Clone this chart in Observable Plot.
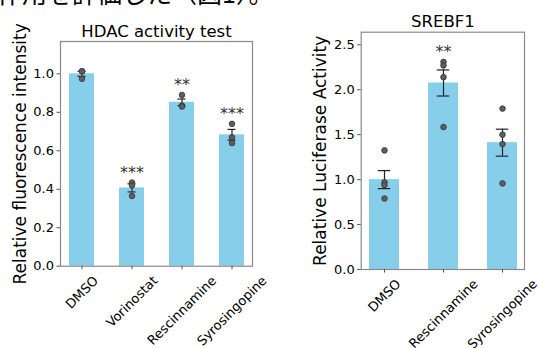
<!DOCTYPE html>
<html><head><meta charset="utf-8">
<script src="https://cdn.jsdelivr.net/npm/d3@7"></script>
<script src="https://cdn.jsdelivr.net/npm/@observablehq/plot@0.6"></script>
<style>
body{margin:0;background:#fff;font-family:"DejaVu Sans";color:#000;}
#wrap{position:relative;width:539px;height:348px;overflow:hidden;background:#fff;}
#cap{position:absolute;left:-3px;top:-23px;font-family:"Noto Sans CJK JP";font-size:25px;line-height:30px;white-space:nowrap;}
#left{position:absolute;left:0;top:0;}
#right{position:absolute;left:270px;top:0;}
svg{font-family:"DejaVu Sans";}
</style></head><body>
<div id="wrap"><div id="cap">作用を評価した（図1）。</div><div id="left"></div><div id="right"></div></div>
<script>
// HDAC activity test
const hdacCategories = ["DMSO", "Vorinostat", "Rescinnamine", "Syrosingopine"];
const hdacMeans = [1.0, 0.407, 0.852, 0.683];
const hdacSems = [0.013, 0.021, 0.017, 0.028];
const hdacPoints = [[1.013, 1.013, 0.974], [0.435, 0.42, 0.365], [0.89, 0.835, 0.83], [0.74, 0.67, 0.64]];
const hdacStars = ["", "***", "**", "***"];
const hdacTicks = [0, 0.2, 0.4, 0.6, 0.8, 1.0];

// SREBF1 luciferase
const srebfCategories = ["DMSO", "Rescinnamine", "Syrosingopine"];
const srebfMeans = [1.0, 2.075, 1.411];
const srebfSems = [0.1, 0.145, 0.15];
const srebfPoints = [[1.325, 0.97, 0.94, 0.79], [2.31, 2.27, 2.14, 1.585], [1.79, 1.5, 1.395, 0.958]];
const srebfStars = ["", "**", ""];
const srebfTicks = [0, 0.5, 1.0, 1.5, 2.0, 2.5];

const FS = 13;
const ctx = document.createElement("canvas").getContext("2d");
ctx.font = `${FS}px "DejaVu Sans"`;

function panel(o) {
  const bars = o.categories.map((c, i) => ({c, m: o.means[i], lo: o.means[i] - o.sems[i], hi: o.means[i] + o.sems[i]}));
  const pts = o.categories.flatMap((c, i) => o.points[i].map(v => ({c, v})));
  const st = o.categories.map((c, i) => ({c, s: o.stars[i], y: d3.max(o.points[i])})).filter(d => d.s);
  const h = FS * 1.16;
  const labelMarks = o.categories.map(c => {
    const w = ctx.measureText(c).width;
    const off = (w + h) / (2 * Math.SQRT2);
    return Plot.text([c], {x: d => d, text: d => d, frameAnchor: "bottom", dy: 7 + off, rotate: -45,
      textAnchor: "middle", lineAnchor: "middle", fontSize: FS, fill: "#000"});
  });
  return Plot.plot({
    width: o.width, height: o.height,
    marginLeft: o.ml, marginRight: o.mr, marginTop: o.mt, marginBottom: o.mb,
    style: {background: "transparent", fontFamily: "DejaVu Sans"},
    x: {type: "band", domain: o.categories, paddingInner: 0.5, paddingOuter: o.po, axis: null},
    y: {domain: [0, o.yMax], axis: null},
    marks: [
      Plot.barY(bars, {x: "c", y: "m", fill: "#87CEEB"}),
      Plot.ruleX(bars, {x: "c", y1: "lo", y2: "hi", stroke: "#222", strokeWidth: 1.2}),
      Plot.tickY(bars, {x: "c", y: "hi", insetLeft: o.cap, insetRight: o.cap, stroke: "#222", strokeWidth: 1.2}),
      Plot.tickY(bars, {x: "c", y: "lo", insetLeft: o.cap, insetRight: o.cap, stroke: "#222", strokeWidth: 1.2}),
      Plot.dot(pts, {x: "c", y: "v", r: 2.8, fill: "#5e5e5e", stroke: "#333", strokeWidth: 0.8}),
      Plot.text(st, {x: "c", y: "y", text: "s", lineAnchor: "bottom", dy: -5, fontSize: 16, fill: "#333"}),
      Plot.frame({stroke: "#8a8a8a", strokeWidth: 1.2}),
      Plot.axisY({ticks: o.ticks, tickFormat: d3.format(".1f"), tickSize: 3.5, tickPadding: 3,
        fontSize: FS, label: null, stroke: "#555", fill: "#000"}),
      Plot.axisX({tickSize: 3.5, tickFormat: () => "", label: null, stroke: "#555"}),
      ...labelMarks,
      Plot.text([o.ylabel], {text: d => d, frameAnchor: "left", dx: o.ylabelX - o.ml, rotate: -90,
        textAnchor: "middle", lineAnchor: "middle", fontSize: 17, fill: "#000"}),
      Plot.text([o.title], {text: d => d, frameAnchor: "top", dy: o.titleY - o.mt,
        lineAnchor: "middle", fontSize: 16.5, fill: "#000"})
    ]
  });
}

document.getElementById("left").append(panel({
  categories: hdacCategories, means: hdacMeans, sems: hdacSems, points: hdacPoints, stars: hdacStars,
  ticks: hdacTicks, yMax: 1.168, width: 270, height: 348, ml: 60, mr: 18, mt: 41, mb: 82.3, po: 0.17,
  cap: 8.5, ylabel: "Relative fluorescence intensity", ylabelX: 20, title: "HDAC activity test", titleY: 31
}));
document.getElementById("right").append(panel({
  categories: srebfCategories, means: srebfMeans, sems: srebfSems, points: srebfPoints, stars: srebfStars,
  ticks: srebfTicks, yMax: 2.64, width: 269, height: 348, ml: 90.7, mr: 15, mt: 31.7, mb: 79, po: 0.127,
  cap: 8.8, ylabel: "Relative Luciferase Activity", ylabelX: 50, title: "SREBF1", titleY: 21.5
}));
</script>
</body></html>
